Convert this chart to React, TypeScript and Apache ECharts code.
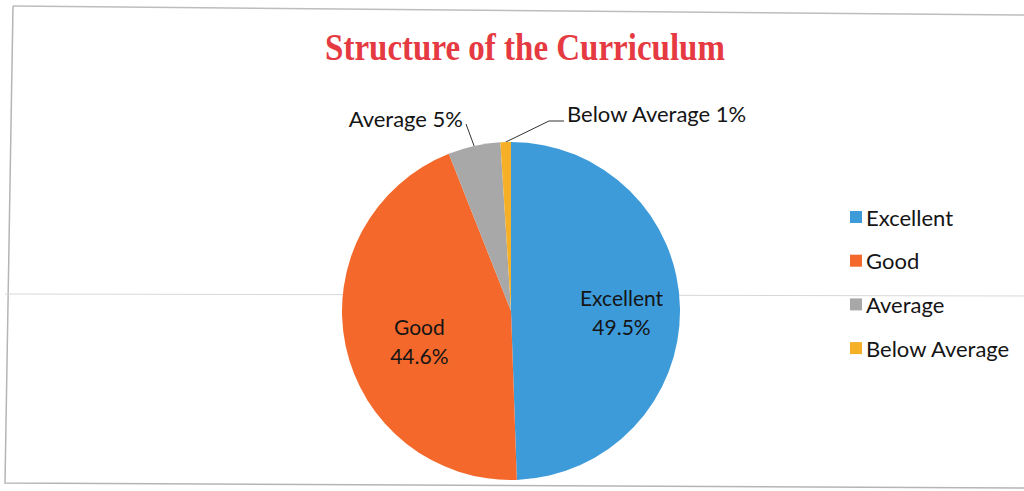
import React, { useEffect, useRef } from "react";
import * as echarts from "echarts";

const categories = ["Excellent", "Good", "Average", "Below Average"];
const values = [49.5, 44.6, 5, 1];
const sliceLabels = ["Excellent\n49.5%", "Good\n44.6%", "Average 5%", "Below Average 1%"];
const colors = ["#3D9BDA", "#F4692B", "#A8A8A8", "#F5B027"];
const titleText = "Structure of the Curriculum";

export default function App() {
  const ref = useRef<HTMLDivElement>(null);
  useEffect(() => {
    document.body.style.margin = "0";
    if (!ref.current) return;
    const chart = echarts.init(ref.current, null, { renderer: "svg" });
    const cx = 511;
    const cy = 311;
    chart.setOption({
      animation: false,
      backgroundColor: "#ffffff",
      legend: {
        orient: "vertical",
        left: 845,
        top: 201,
        icon: "rect",
        itemWidth: 12,
        itemHeight: 12,
        itemGap: 21.7,
        data: categories,
        textStyle: {
          fontFamily: "Lato",
          fontSize: 22,
          lineHeight: 22,
          color: "#151515",
          padding: [0, 0, 0, -1],
        },
      },
      graphic: [
        {
          type: "polyline",
          silent: true,
          shape: { points: [[13, 6], [1024, 15]] },
          style: { stroke: "#bdbdbd", lineWidth: 1.5, fill: "none" },
        },
        {
          type: "polyline",
          silent: true,
          shape: { points: [[13, 6], [5, 483], [1024, 488]] },
          style: { stroke: "#b5b5b5", lineWidth: 1.5, fill: "none" },
        },
        {
          type: "line",
          silent: true,
          shape: { x1: 5, y1: 294, x2: 1024, y2: 296 },
          style: { stroke: "#d8d8d8", lineWidth: 1 },
        },
        {
          type: "text",
          silent: true,
          x: 525,
          y: 47,
          scaleY: 1.18,
          style: {
            text: titleText,
            fontFamily: "Liberation Serif",
            fontWeight: "bold",
            fontSize: 33,
            fill: "#E63A42",
            textAlign: "center",
            textVerticalAlign: "middle",
          },
        },
      ],
      series: [
        {
          type: "pie",
          center: [cx, cy],
          radius: 169,
          startAngle: 90,
          clockwise: true,
          avoidLabelOverlap: false,
          data: categories.map((name, i) => ({
            name,
            value: values[i],
            itemStyle: { color: colors[i] },
            label: {
              show: true,
              position: i < 2 ? "inside" : "outside",
              formatter: sliceLabels[i],
              fontSize: i < 2 ? 21 : 22,
            },
            labelLine: { show: i >= 2 },
          })),
          label: {
            fontFamily: "Lato",
            fontSize: 21,
            lineHeight: 29,
            color: "#151515",
            align: "center",
          },
          labelLine: {
            lineStyle: { color: "#333", width: 1 },
            length: 15,
            length2: 10,
          },
          labelLayout: (p: any) => {
            if (p.dataIndex === 0) return { dx: 23, dy: 3 };
            if (p.dataIndex === 1) return { dx: -6, dy: 12 };
            const a = p.labelLinePoints ? p.labelLinePoints[0] : [cx, cy - 169];
            if (p.dataIndex === 2) {
              return {
                x: 463,
                y: 118,
                align: "right",
                verticalAlign: "middle",
                labelLinePoints: [a, [466, 124], [466, 124]],
              };
            }
            return {
              x: 567,
              y: 113,
              align: "left",
              verticalAlign: "middle",
              labelLinePoints: [a, [549, 121], [564, 121]],
            };
          },
        },
      ],
    });
    return () => chart.dispose();
  }, []);
  return <div ref={ref} style={{ width: 1024, height: 491 }} />;
}
